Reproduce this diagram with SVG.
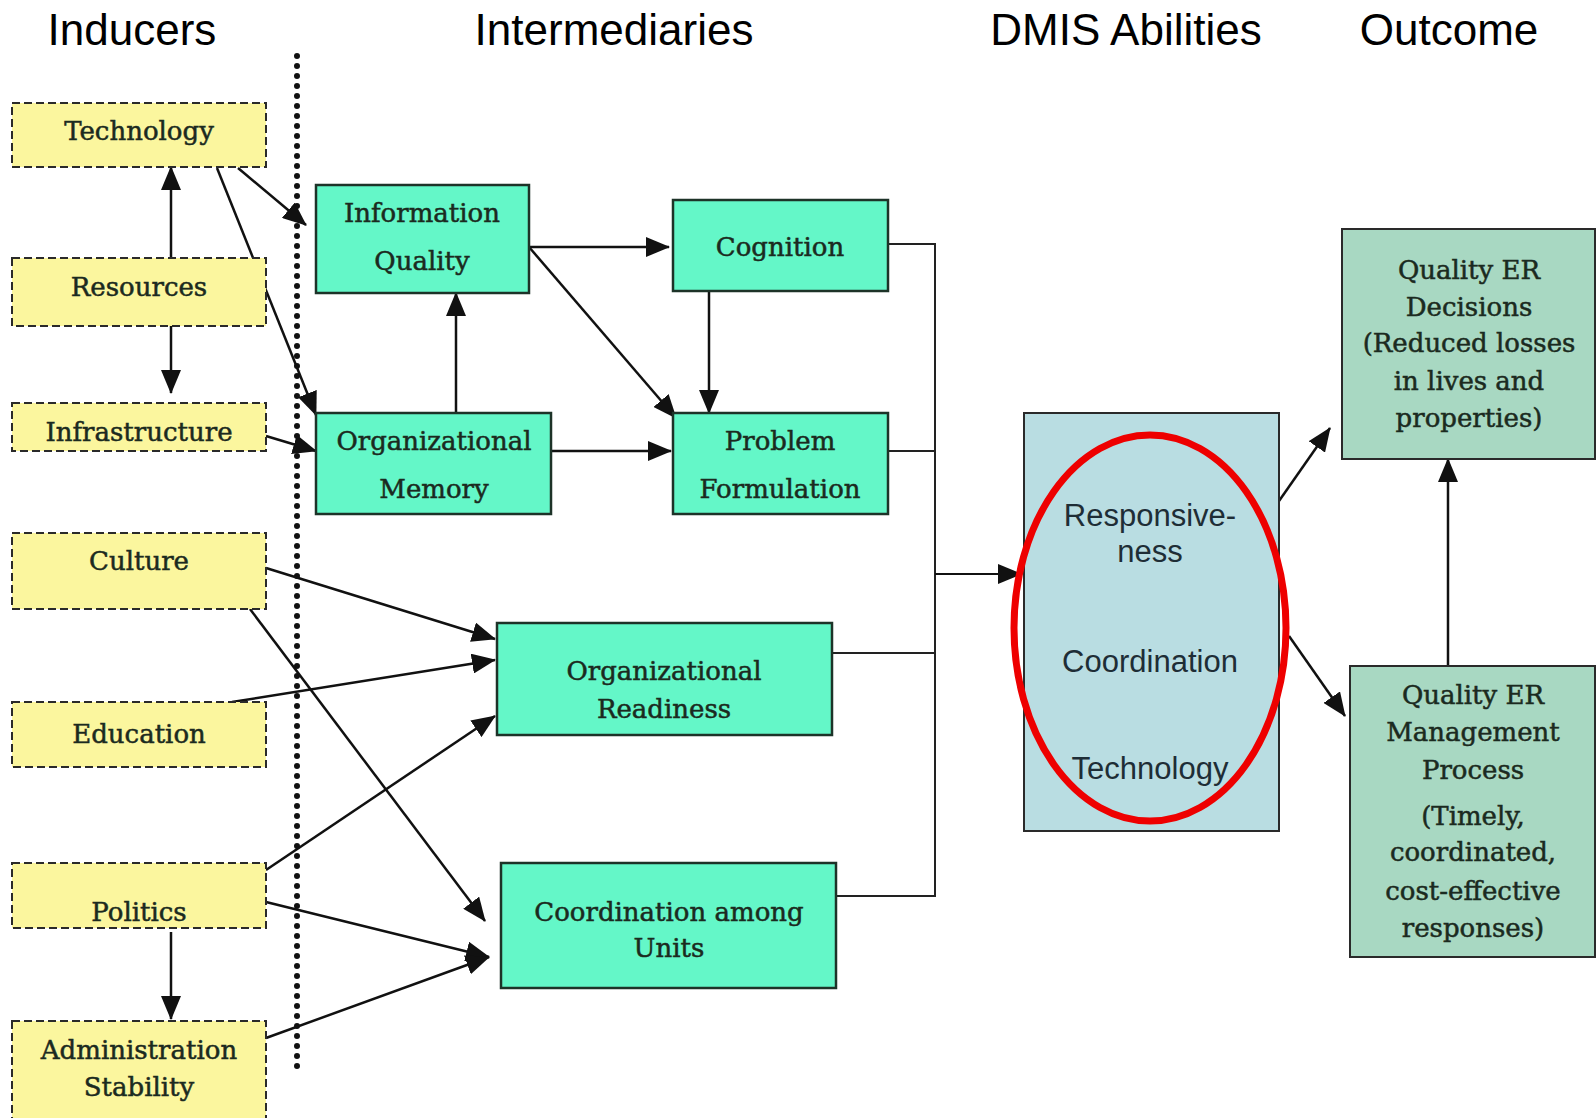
<svg xmlns="http://www.w3.org/2000/svg" width="1596" height="1118" viewBox="0 0 1596 1118">
<style>
.title{font-family:"Liberation Sans",Arial,sans-serif;font-size:44px;fill:#000;text-anchor:middle}
.ind rect{fill:#FBF69E;stroke:#2a2a2a;stroke-width:2;stroke-dasharray:8 4}
.mid rect{fill:#64F7C8;stroke:#1d3328;stroke-width:2.5}
.out rect{fill:#A8D8C2;stroke:#2a2a2a;stroke-width:2}
.dmis rect{fill:#B9DDE2;stroke:#2a2a2a;stroke-width:2}
.bt{font-family:"DejaVu Serif","Liberation Serif",serif;font-size:26px;fill:#1b2a20;stroke:#1b2a20;stroke-width:0.5;text-anchor:middle}
.st{font-family:"Liberation Sans",Arial,sans-serif;font-size:31px;fill:#1e2d36;text-anchor:middle}
.c{stroke:#111;stroke-width:2.5;fill:none}
.ca{stroke:#111;stroke-width:2.5;fill:none;marker-end:url(#ah)}
.bus{stroke:#222;stroke-width:2;fill:none}
</style>
<defs>
<marker id="ah" markerUnits="userSpaceOnUse" markerWidth="24" markerHeight="20" viewBox="0 0 24 20" refX="23" refY="10" orient="auto">
<path d="M0,0 L24,10 L0,20 Z" fill="#111"/>
</marker>
</defs>
<rect width="1596" height="1118" fill="#fff"/>

<g id="titles">
<text class="title" x="132" y="45">Inducers</text>
<text class="title" x="614" y="45">Intermediaries</text>
<text class="title" x="1126" y="45">DMIS Abilities</text>
<text class="title" x="1449" y="45">Outcome</text>
</g>

<line id="divider" x1="297" y1="56" x2="297" y2="1071" stroke="#111" stroke-width="6" stroke-linecap="round" stroke-dasharray="0 10"/>

<g id="connectors">
<line class="ca" x1="238" y1="168" x2="306" y2="225"/>
<line class="ca" x1="217" y1="168" x2="316" y2="415"/>
<line class="ca" x1="171" y1="258" x2="171" y2="167"/>
<line class="ca" x1="171" y1="326" x2="171" y2="393"/>
<line class="ca" x1="266" y1="436" x2="316" y2="451"/>
<line class="ca" x1="529" y1="247" x2="669" y2="247"/>
<line class="ca" x1="529" y1="247" x2="676" y2="418"/>
<line class="ca" x1="709" y1="291" x2="709" y2="413"/>
<line class="ca" x1="456" y1="413" x2="456" y2="293"/>
<line class="ca" x1="551" y1="451" x2="671" y2="451"/>
<path class="bus" d="M888,244 H935 V896 H836 M888,451 H935 M832,653 H935"/>
<line class="ca" x1="935" y1="574" x2="1021" y2="574" style="stroke-width:2"/>
<line class="ca" x1="266" y1="568" x2="495" y2="639"/>
<line class="ca" x1="232" y1="702" x2="495" y2="660"/>
<line class="ca" x1="250" y1="609" x2="485" y2="921"/>
<line class="ca" x1="266" y1="870" x2="495" y2="716"/>
<line class="ca" x1="266" y1="902" x2="489" y2="957"/>
<line class="ca" x1="266" y1="1038" x2="489" y2="957"/>
<line class="ca" x1="171" y1="932" x2="171" y2="1019"/>
<line class="ca" x1="1279" y1="501" x2="1330" y2="428"/>
<line class="ca" x1="1289" y1="636" x2="1345" y2="716"/>
<line class="ca" x1="1448" y1="666" x2="1448" y2="459"/>
</g>

<g id="technology" class="ind"><rect x="12" y="103" width="254" height="64"/><text class="bt" x="139" y="140">Technology</text></g>
<g id="resources" class="ind"><rect x="12" y="258" width="254" height="68"/><text class="bt" x="139" y="296">Resources</text></g>
<g id="infrastructure" class="ind"><rect x="12" y="403" width="254" height="48"/><text class="bt" x="139" y="441">Infrastructure</text></g>
<g id="culture" class="ind"><rect x="12" y="533" width="254" height="76"/><text class="bt" x="139" y="570">Culture</text></g>
<g id="education" class="ind"><rect x="12" y="702" width="254" height="65"/><text class="bt" x="139" y="743">Education</text></g>
<g id="politics" class="ind"><rect x="12" y="863" width="254" height="65"/><text class="bt" x="139" y="921">Politics</text></g>
<g id="admin-stability" class="ind"><rect x="12" y="1021" width="254" height="110"/><text class="bt" x="139" y="1059">Administration</text><text class="bt" x="139" y="1096">Stability</text></g>

<g id="information-quality" class="mid"><rect x="316" y="185" width="213" height="108"/><text class="bt" x="422" y="222">Information</text><text class="bt" x="422" y="270">Quality</text></g>
<g id="organizational-memory" class="mid"><rect x="316" y="413" width="235" height="101"/><text class="bt" x="434" y="450">Organizational</text><text class="bt" x="434" y="498">Memory</text></g>
<g id="cognition" class="mid"><rect x="673" y="200" width="215" height="91"/><text class="bt" x="780" y="256">Cognition</text></g>
<g id="problem-formulation" class="mid"><rect x="673" y="413" width="215" height="101"/><text class="bt" x="780" y="450">Problem</text><text class="bt" x="780" y="498">Formulation</text></g>
<g id="organizational-readiness" class="mid"><rect x="497" y="623" width="335" height="112"/><text class="bt" x="664" y="680">Organizational</text><text class="bt" x="664" y="718">Readiness</text></g>
<g id="coordination-units" class="mid"><rect x="501" y="863" width="335" height="125"/><text class="bt" x="669" y="921">Coordination among</text><text class="bt" x="669" y="957">Units</text></g>

<g id="dmis-abilities" class="dmis">
<rect x="1024" y="413" width="255" height="418"/>
<text class="st" x="1150" y="526">Responsive-</text>
<text class="st" x="1150" y="562">ness</text>
<text class="st" x="1150" y="672">Coordination</text>
<text class="st" x="1150" y="779">Technology</text>
<ellipse cx="1150" cy="628" rx="136" ry="193" fill="none" stroke="#EE0000" stroke-width="7"/>
</g>

<g id="quality-er-decisions" class="out">
<rect x="1342" y="229" width="253" height="230"/>
<text class="bt" x="1469" y="279">Quality ER</text>
<text class="bt" x="1469" y="316">Decisions</text>
<text class="bt" x="1469" y="352">(Reduced losses</text>
<text class="bt" x="1469" y="390">in lives and</text>
<text class="bt" x="1469" y="427">properties)</text>
</g>
<g id="quality-er-management" class="out">
<rect x="1350" y="666" width="245" height="291"/>
<text class="bt" x="1473" y="704">Quality ER</text>
<text class="bt" x="1473" y="741">Management</text>
<text class="bt" x="1473" y="779">Process</text>
<text class="bt" x="1473" y="825">(Timely,</text>
<text class="bt" x="1473" y="861">coordinated,</text>
<text class="bt" x="1473" y="900">cost-effective</text>
<text class="bt" x="1473" y="937">responses)</text>
</g>
</svg>
